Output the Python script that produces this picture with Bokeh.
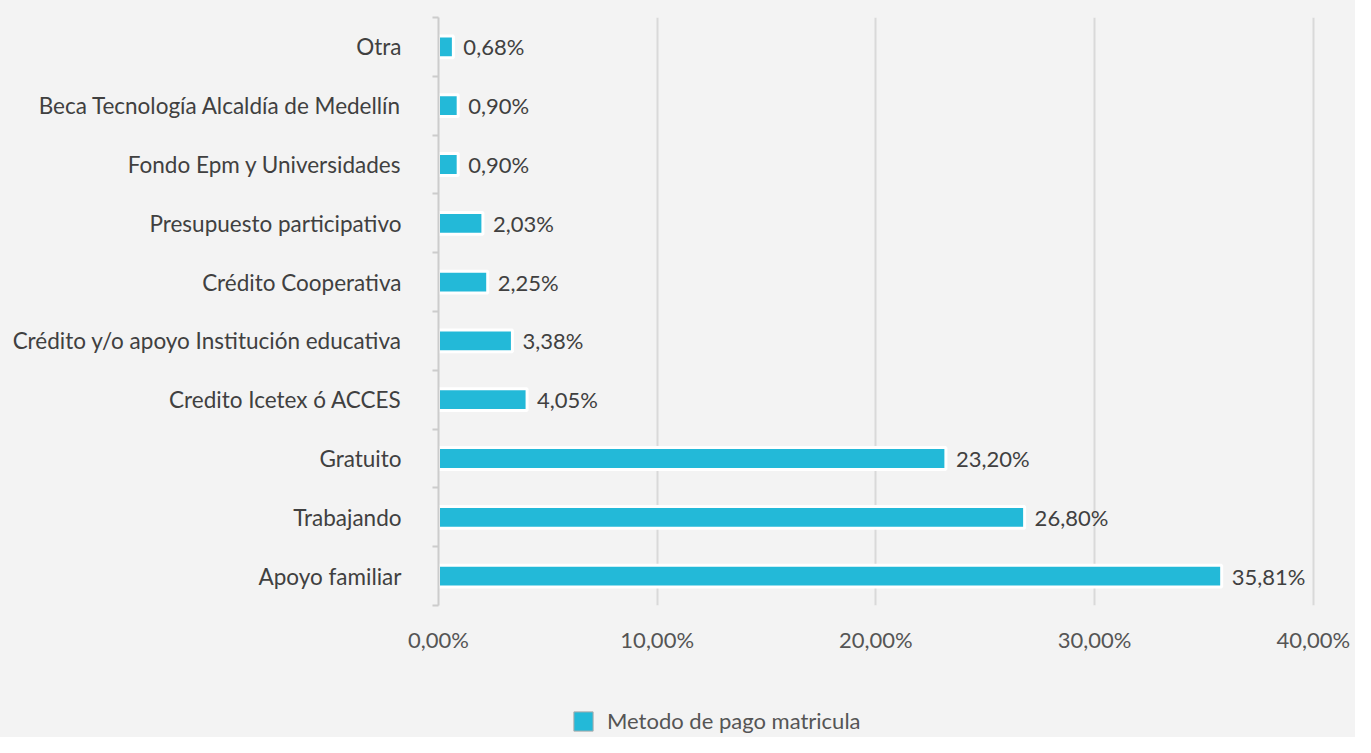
from bokeh.plotting import figure
from bokeh.layouts import column
from bokeh.models import ColumnDataSource, FixedTicker, Legend, LegendItem, Range1d
from bokeh.core.properties import value
from bokeh.embed import file_html
from bokeh.resources import INLINE

categories = ["Apoyo familiar", "Trabajando", "Gratuito", "Credito Icetex ó ACCES",
              "Crédito y/o apoyo Institución educativa", "Crédito Cooperativa",
              "Presupuesto participativo", "Fondo Epm y Universidades",
              "Beca Tecnología Alcaldía de Medellín", "Otra"]
values = [35.81, 26.80, 23.20, 4.05, 3.38, 2.25, 2.03, 0.90, 0.90, 0.68]
x_ticks = [0, 10, 20, 30, 40]
series_name = "Metodo de pago matricula"

FONT = "Lato"
FS = "22px"
BG = "#f3f3f3"
BAR = "#23b9d8"
W = 1355

def pct(v):
    return f"{v:.2f}%".replace(".", ",")

ypos = list(range(len(categories)))
src = ColumnDataSource(dict(y=ypos, v=values, lab=[pct(v) for v in values]))

p = figure(width=W, height=700, output_backend="svg", toolbar_location=None,
           x_range=Range1d(0, 40.1), y_range=Range1d(-0.5, len(categories) - 0.5),
           min_border_left=438, min_border_right=40, min_border_top=17, min_border_bottom=95)
p.background_fill_color = None
p.border_fill_color = BG
p.outline_line_color = None

bar_style = dict(fill_color=BAR, line_color="white", line_width=3)
bars = p.hbar(y="y", right="v", left=0, height=0.37, source=src, **bar_style)
p.text(x="v", y="y", text="lab", source=src, x_offset=10, text_baseline="middle",
       text_align="left", text_font=value(FONT), text_font_size=FS, text_color="#404040")

# x axis
p.xaxis.ticker = FixedTicker(ticks=x_ticks)
p.xaxis.major_label_overrides = {t: pct(t) for t in x_ticks}
p.xaxis.axis_line_color = None
p.xaxis.major_tick_line_color = None
p.xaxis.minor_tick_line_color = None
p.xaxis.major_tick_out = 0
p.xaxis.major_label_standoff = 20
p.xaxis.major_label_text_font = FONT
p.xaxis.major_label_text_font_size = FS
p.xaxis.major_label_text_color = "#555555"

# y axis
p.yaxis.ticker = FixedTicker(ticks=ypos, minor_ticks=[i - 0.5 for i in range(len(categories) + 1)])
p.yaxis.major_label_overrides = {i: c for i, c in enumerate(categories)}
p.yaxis.axis_line_color = "#cccccc"
p.yaxis.axis_line_width = 2
p.yaxis.major_tick_line_color = None
p.yaxis.major_tick_out = 0
p.yaxis.major_tick_in = 0
p.yaxis.minor_tick_line_color = "#cccccc"
p.yaxis.minor_tick_line_width = 2
p.yaxis.minor_tick_out = 6
p.yaxis.minor_tick_in = 0
p.yaxis.major_label_standoff = 31
p.yaxis.major_label_text_font = FONT
p.yaxis.major_label_text_font_size = "22.5px"
p.yaxis.major_label_text_color = "#404040"

p.xgrid.ticker = FixedTicker(ticks=x_ticks[1:])
p.xgrid.grid_line_color = "#d9d9d9"
p.xgrid.grid_line_width = 2
p.ygrid.grid_line_color = None

# legend strip below the chart (its bars lie outside its visible range)
lg = figure(width=W, height=37, output_backend="svg", toolbar_location=None,
            x_range=Range1d(0, 1), y_range=Range1d(100, 101), min_border=0)
lg.background_fill_color = None
lg.border_fill_color = BG
lg.outline_line_color = None
lg.axis.visible = False
lg.grid.visible = False
proxy = lg.hbar(y="y", right="v", left=0, height=0.37, source=src,
                fill_color=BAR, line_color="#aaaaaa", line_width=1)
legend = Legend(items=[LegendItem(label=series_name, renderers=[proxy])],
                location=(133, 3), orientation="horizontal",
                background_fill_alpha=0, border_line_alpha=0,
                label_text_font=FONT, label_text_font_size=FS, label_text_color="#555555",
                label_standoff=12, label_height=22,
                glyph_width=24, glyph_height=24, padding=0, spacing=0, margin=0)
lg.add_layout(legend, "center")

layout = column(p, lg, spacing=0, styles={"background-color": BG})
open("out.html", "w").write(file_html(layout, INLINE))
